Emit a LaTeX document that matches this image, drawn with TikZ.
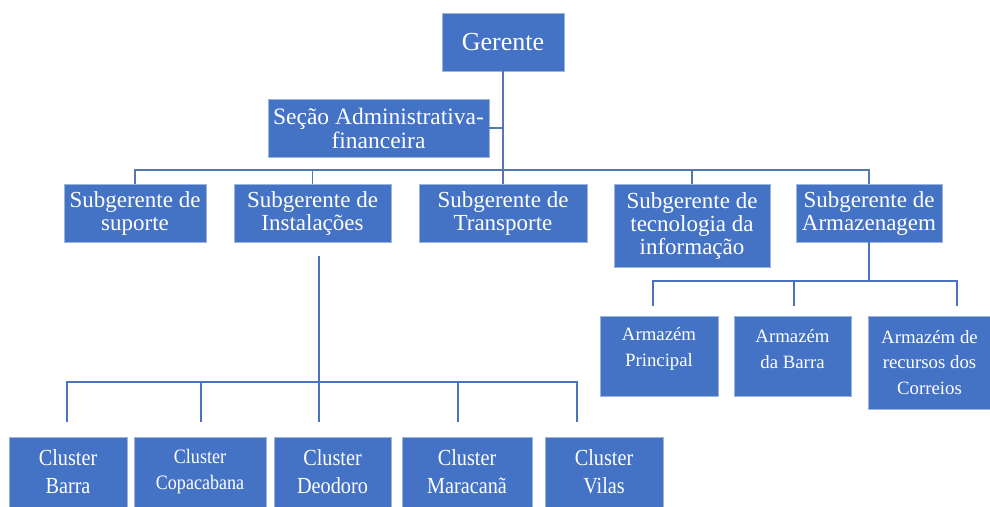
\documentclass[tikz,border=0pt]{standalone}
\usepackage{fontspec}
\setmainfont{Liberation Serif}
\newfontfamily\condfont[FakeStretch=0.88]{Liberation Serif}
\definecolor{boxfill}{HTML}{4472C4}
\definecolor{boxline}{HTML}{9DB4E0}
\definecolor{linec}{HTML}{4A72BD}
\definecolor{topline}{HTML}{5577B0}
\tikzset{
  box/.style={rectangle, fill=boxfill, draw=boxline, line width=0.6pt, text=white, inner sep=0pt, align=center},
  subbox/.style={box, font=\fontsize{23}{23}\selectfont, minimum height=58},
  clbox/.style={box, font=\condfont\fontsize{23}{28}\selectfont, minimum height=70},
  arbox/.style={box, font=\fontsize{18.8}{25.5}\selectfont},
  artext/.style={text=white, inner sep=0pt, align=center, font=\fontsize{18.8}{25.5}\selectfont},
  conn/.style={draw=linec, line width=1.6pt},
  topconn/.style={draw=topline, line width=1.6pt},
}
\begin{document}
\begin{tikzpicture}[x=1pt,y=-1pt]
\useasboundingbox (0,0) rectangle (990,506);
% top
\node[box, font=\fontsize{26}{28}\selectfont, minimum width=122, minimum height=58] (ger) at (503,42) {Gerente};
\node[box, font=\fontsize{23.5}{24}\selectfont, minimum width=221, minimum height=58] (sec) at (378.5,128) {Seção Administrativa-\\financeira};
% subgerentes
\node[subbox, minimum width=142] (sup) at (135,213) {Subgerente de\\suporte};
\node[subbox, minimum width=157] (ins) at (312.5,213) {Subgerente de\\Instalações};
\node[subbox, minimum width=168] (tra) at (503,213) {Subgerente de\\Transporte};
\node[subbox, minimum width=156, minimum height=83] (tec) at (692,225.5) {Subgerente de\\tecnologia da\\informação};
\node[subbox, minimum width=146] (arm) at (869,213) {Subgerente de\\Armazenagem};
% armazens
\node[arbox, minimum width=118, minimum height=80] (ap) at (659,356) {};
\node[artext] (apt) at ([yshift=7pt]ap.center) {Armazém\\Principal};
\node[arbox, minimum width=117, minimum height=80] (ab) at (792.5,356) {};
\node[artext] (abt) at ([yshift=7pt]ab.center) {Armazém\\da Barra};
\node[arbox, minimum width=123, minimum height=93] (ac) at (929.5,362.5) {Armazém de\\recursos dos\\Correios};
% clusters
\node[clbox, minimum width=118] (c1) at (68,472) {Cluster\\Barra};
\node[clbox, minimum width=132, font=\condfont\fontsize{20.5}{26}\selectfont] (c2) at (200,472) {Cluster\\Copacabana};
\node[clbox, minimum width=117] (c3) at (332.5,472) {Cluster\\Deodoro};
\node[clbox, minimum width=130] (c4) at (467,472) {Cluster\\Maracanã};
\node[clbox, minimum width=118] (c5) at (604,472) {Cluster\\Vilas};
% coordinates
\coordinate (barL) at (135,170);
\coordinate (barR) at (869,170);
\coordinate (insTop) at (319,256);
\coordinate (clBar) at (319,382);
\coordinate (d1) at (67,422);
\coordinate (d2) at (201,422);
\coordinate (d3) at (319,422);
\coordinate (d4) at (458,422);
\coordinate (d5) at (577,422);
\coordinate (arBar) at (869,281);
\coordinate (e1) at (653,306);
\coordinate (e2) at (794,306);
\coordinate (e3) at (957,306);
% top connectors
\draw[topconn] (ger.south) -- (tra.north);
\draw[topconn] (sec.east) -- (sec.east -| ger.south);
\draw[topconn] (sup.north) -- (barL) -- (barR) -- (arm.north);
\draw[topconn] (ins.north) -- (ins.north |- barL);
\draw[topconn] (tec.north) -- (tec.north |- barL);
% clusters
\draw[conn] (insTop) -- (clBar);
\draw[conn] (d1) |- (clBar) -| (d5);
\draw[conn] (d2) -- (d2 |- clBar);
\draw[conn] (d3) -- (clBar);
\draw[conn] (d4) -- (d4 |- clBar);
% armazens
\draw[conn] (arm.south) -- (arBar);
\draw[conn] (e1) |- (arBar) -| (e3);
\draw[conn] (e2) -- (e2 |- arBar);
\end{tikzpicture}
\end{document}
